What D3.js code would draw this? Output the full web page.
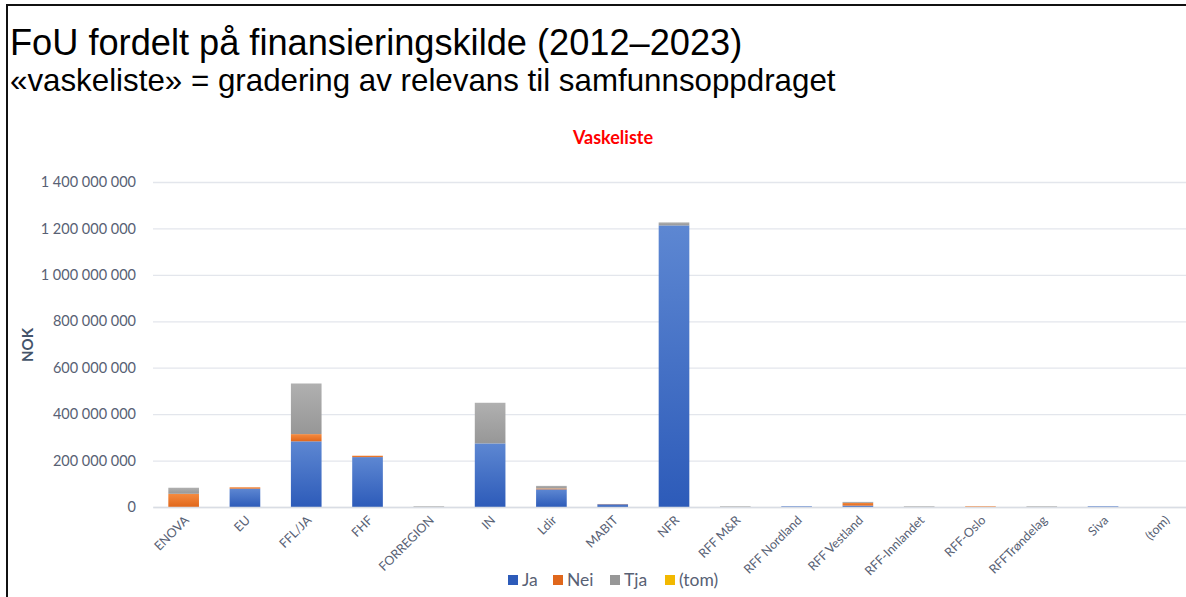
<!DOCTYPE html>
<html>
<head>
<meta charset="utf-8">
<script src="https://cdnjs.cloudflare.com/ajax/libs/d3/7.8.5/d3.min.js"></script>
<style>
  body { margin: 0; background: #fff; }
  .tick text { fill: #586174; font-family: Lato, "Open Sans", sans-serif; }
</style>
</head>
<body>
<div id="chart"></div>
<script>
// data (NOK)
var categories = ["ENOVA", "EU", "FFL/JA", "FHF", "FORREGION", "IN", "Ldir", "MABIT", "NFR",
  "RFF M&R", "RFF Nordland", "RFF Vestland", "RFF-Innlandet", "RFF-Oslo", "RFFTrøndelag", "Siva", "(tom)"];
var seriesNames = ["Ja", "Nei", "Tja", "(tom)"];
var ja  = [0, 79e6, 283e6, 215e6, 0, 274e6, 76e6, 12e6, 1213e6, 0, 3e6, 6e6, 0, 0, 0, 3e6, 0];
var nei = [57e6, 6e6, 31e6, 6e6, 0, 0, 4e6, 1e6, 0, 0, 0, 12e6, 0, 3e6, 0, 0, 0];
var tja = [26e6, 0, 218e6, 0, 3e6, 175e6, 11e6, 0, 13e6, 3e6, 0, 4e6, 3e6, 0, 3e6, 0, 0];
var tom = [0, 0, 0, 0, 0, 0, 0, 0, 0, 0, 0, 0, 0, 0, 0, 0, 0];
var yTicks = [0, 200e6, 400e6, 600e6, 800e6, 1000e6, 1200e6, 1400e6];

var W = 1186, H = 597;
var colors = { "Ja": ["#5d87d2", "#2d5bb9"], "Nei": ["#f58b40", "#e0671b"],
               "Tja": ["#b0b0b0", "#979797"], "(tom)": ["#ffc81a", "#f2b800"] };

var rows = categories.map(function (c, i) {
  return { cat: c, "Ja": ja[i], "Nei": nei[i], "Tja": tja[i], "(tom)": tom[i] };
});

var svg = d3.select("#chart").append("svg")
  .attr("width", W).attr("height", H);

// gradients like the office chart fill
var defs = svg.append("defs");
seriesNames.forEach(function (s, i) {
  var g = defs.append("linearGradient").attr("id", "g" + i)
    .attr("x1", 0).attr("y1", 0).attr("x2", 0).attr("y2", 1);
  g.append("stop").attr("offset", "0%").attr("stop-color", colors[s][0]);
  g.append("stop").attr("offset", "100%").attr("stop-color", colors[s][1]);
});

// frame
svg.append("path").attr("d", "M7,597 V5 H1186")
  .attr("fill", "none").attr("stroke", "#111").attr("stroke-width", 2);

// titles
svg.append("text").attr("x", 10).attr("y", 55)
  .style("font-family", "'Liberation Sans', Arial, sans-serif").style("font-size", "36.2px")
  .style("fill", "#000").text("FoU fordelt på finansieringskilde (2012–2023)");
svg.append("text").attr("x", 10).attr("y", 91)
  .style("font-family", "'Liberation Sans', Arial, sans-serif").style("font-size", "31.3px")
  .style("fill", "#000").text("«vaskeliste» = gradering av relevans til samfunnsoppdraget");
svg.append("text").attr("x", 613).attr("y", 144).attr("text-anchor", "middle")
  .style("font-family", "Lato, sans-serif").style("font-weight", "bold").style("font-size", "18px")
  .style("fill", "#ff0000").text("Vaskeliste");

var x = d3.scaleBand().domain(categories).range([153, 1195]).paddingInner(0.5).paddingOuter(0.25);
var y = d3.scaleLinear().domain([0, 1400e6]).range([507, 182]);

var fmt = d3.formatLocale({ decimal: ",", thousands: " ", grouping: [3], currency: ["", " kr"] }).format(",d");

// y axis with gridlines
var yAxis = svg.append("g").attr("transform", "translate(153,0)")
  .call(d3.axisLeft(y).tickValues(yTicks).tickFormat(fmt).tickSize(-(W - 153)).tickPadding(17));
yAxis.select(".domain").remove();
yAxis.selectAll(".tick line").attr("stroke", "#e3e6ec").attr("stroke-width", 1.3);
yAxis.selectAll(".tick text").style("font-size", "14.5px");

svg.append("text").attr("transform", "translate(33,345) rotate(-90)").attr("text-anchor", "middle")
  .style("font-family", "Lato, sans-serif").style("font-weight", "bold").style("font-size", "15px")
  .style("fill", "#44546a").text("NOK");

// bars
var stack = d3.stack().keys(seriesNames)(rows);
svg.append("g").selectAll("g").data(stack).enter().append("g")
  .attr("fill", function (d, i) { return "url(#g" + i + ")"; })
  .selectAll("rect").data(function (d) { return d; }).enter().append("rect")
  .attr("x", function (d) { return x(d.data.cat); })
  .attr("y", function (d) { return y(d[1]); })
  .attr("width", x.bandwidth())
  .attr("height", function (d) { return Math.max(0, y(d[0]) - y(d[1])); });

// x labels
var xAxis = svg.append("g").attr("transform", "translate(0,507)")
  .call(d3.axisBottom(x).tickSize(0).tickPadding(0));
xAxis.select(".domain").attr("stroke", "#d9dde4").attr("stroke-width", 1.3);
xAxis.selectAll(".tick text")
  .attr("text-anchor", "end").attr("dy", 0).attr("y", 0)
  .attr("transform", "translate(6,14) rotate(-45)")
  .style("font-size", "12.5px");

// legend
var legX = [508, 553, 610, 665];
var leg = svg.append("g").style("font-family", "Lato, sans-serif").style("font-size", "17.5px");
seriesNames.forEach(function (s, i) {
  leg.append("rect").attr("x", legX[i]).attr("y", 575).attr("width", 10).attr("height", 10)
    .attr("fill", colors[s][1]);
  leg.append("text").attr("x", legX[i] + 14).attr("y", 586).style("fill", "#586174").text(s);
});
</script>
</body>
</html>
